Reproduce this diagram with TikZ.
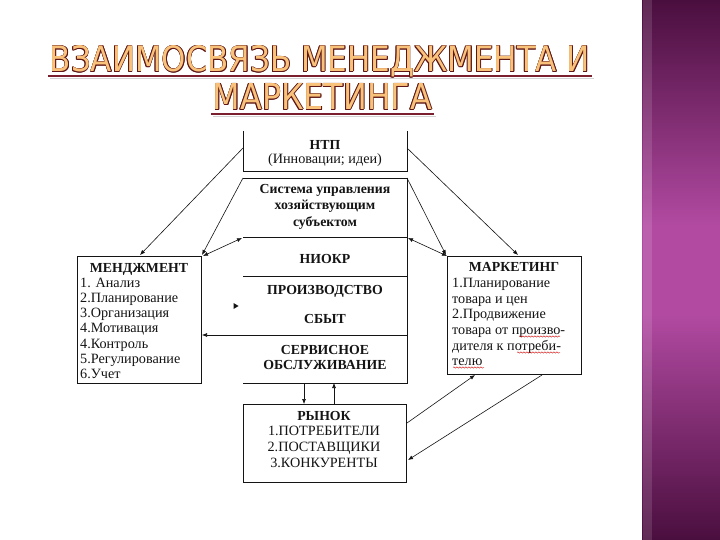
\documentclass[tikz,border=0pt]{standalone}
\usepackage{fontspec}
\setmainfont{Liberation Serif}
\newfontfamily\titlefont{DejaVu Sans}
\usetikzlibrary{arrows.meta,decorations.pathmorphing}
\definecolor{bandtop}{HTML}{4A0E3E}
\definecolor{bandmid}{HTML}{B24AA2}
\definecolor{titlefill}{HTML}{F8C27A}
\definecolor{titleline}{HTML}{5E1616}
\definecolor{ulcol}{HTML}{7B1E2E}
\definecolor{inkcol}{HTML}{141414}
\pgfdeclareverticalshading{bandsh}{100bp}{color(0bp)=(bandtop); color(25bp)=(bandtop); color(46bp)=(bandmid); color(54bp)=(bandmid); color(75bp)=(bandtop); color(100bp)=(bandtop)}
\newcommand\titleone{\resizebox{540pt}{26pt}{\titlefont ВЗАИМОСВЯЗЬ МЕНЕДЖМЕНТА И}}
\newcommand\titletwo{\resizebox{219pt}{26pt}{\titlefont МАРКЕТИНГА}}
\tikzset{
  boxline/.style={line width=0.8pt, draw=inkcol},
  conn/.style={line width=0.6pt, draw=inkcol, -{Latex[length=5pt,width=4pt]}},
  bconn/.style={line width=0.6pt, draw=inkcol, {Latex[length=5pt,width=4pt]}-{Latex[length=5pt,width=4pt]}},
  txt/.style={font=\fontsize{14.2}{15}\selectfont, inner sep=0pt, text=inkcol},
  btxt/.style={font=\fontsize{13.8}{15}\selectfont\bfseries, inner sep=0pt, text=inkcol},
  spell/.style={draw=red!80!black, line width=0.4pt, decorate, decoration={snake, amplitude=0.7pt, segment length=3pt}},
}
\begin{document}
\begin{tikzpicture}[x=1pt,y=-1pt]
\useasboundingbox (0,0) rectangle (720,540);
\fill[white] (0,0) rectangle (720,540);
% side band
\shade[shading=bandsh] (642,0) rectangle (720,540);
\fill[white, opacity=0.12] (643,0) rectangle (652,540);

% title
\draw[gray!35, line width=1.6pt] (50,78.5) -- (594,78.5);
\draw[ulcol, line width=2pt] (48,76) -- (592,76);
\draw[gray!35, line width=1.6pt] (213,116.5) -- (436,116.5);
\draw[ulcol, line width=2pt] (211,114) -- (434,114);
\foreach \a in {0,45,...,315} {
  \node[text=titleline, inner sep=0pt, anchor=base] at ([shift={(\a:0.75pt)}]320,72) {\titleone};
  \node[text=titleline, inner sep=0pt, anchor=base] at ([shift={(\a:0.75pt)}]322.5,110) {\titletwo};
}
\node[text=titlefill, inner sep=0pt, anchor=base] (title1) at (320,72) {\titleone};
\node[text=titlefill, inner sep=0pt, anchor=base] (title2) at (322.5,110) {\titletwo};

% box corners
\coordinate (ntpTL) at (243,131);
\coordinate (ntpTR) at (407,131);
\coordinate (ntpBL) at (243,171);
\coordinate (ntpBR) at (407,171);
\coordinate (sysTL) at (243,178);
\coordinate (sysTR) at (407,178);
\coordinate (cenTL) at (243,237);
\coordinate (cenTR) at (407,237);
\coordinate (cenBL) at (243,383);
\coordinate (cenBR) at (407,383);

% НТП box (open top)
\draw[boxline] (ntpTL) -- (ntpBL) -- (ntpBR) -- (ntpTR);
% Система box (top and right)
\draw[boxline] (sysTL) -- (sysTR) -- (cenTR);
% central block
\draw[boxline] (cenTL) -- (cenTR) -- (cenBR) -- (cenBL);
\draw[boxline] (243,276) -- (407,276);
\draw[boxline] (243,335) -- (407,335);
% МЕНЕДЖМЕНТ box
\draw[boxline] (77,256) rectangle (201,383);
% МАРКЕТИНГ box
\draw[boxline] (447,256) rectangle (581,374);
% РЫНОК box
\draw[boxline] (243,404) rectangle (406,482);

% texts
\node[btxt, anchor=base] (ntp1) at (325,150) {НТП};
\node[txt, anchor=base] (ntp2) at (325,164) {(Инновации; идеи)};
\node[btxt, anchor=base] (sys1) at (325,194) {Система управления};
\node[btxt, anchor=base] (sys2) at (325,210) {хозяйствующим};
\node[btxt, anchor=base] (sys3) at (325,226) {субъектом};
\node[btxt, anchor=base] (cen1) at (325,263) {НИОКР};
\node[btxt, anchor=base] (cen2) at (325,294) {ПРОИЗВОДСТВО};
\node[btxt, anchor=base] (cen3) at (325,323) {СБЫТ};
\node[btxt, anchor=base] (cen4) at (325,354) {СЕРВИСНОЕ};
\node[btxt, anchor=base] (cen5) at (325,369.5) {ОБСЛУЖИВАНИЕ};

\node[btxt, anchor=base] (men0) at (139,272) {МЕНДЖМЕНТ};
\foreach \t [count=\i] in {1. Анализ, 2.Планирование, 3.Организация, 4.Мотивация, 4.Контроль, 5.Регулирование, 6.Учет}
  \node[txt, anchor=base west] (men\i) at (80,272+15.2*\i) {\t};

\node[btxt, anchor=base] (mar0) at (514,271) {МАРКЕТИНГ};
\foreach \t/\yy [count=\i] in {1.Планирование/287, товара и цен/303, 2.Продвижение/318, товара от произво-/334, дителя к потреби-/350, телю/365}
  \node[txt, anchor=base west] (mar\i) at (452,\yy) {\t};
\draw[spell] (519,336.5) -- (560,336.5);
\draw[spell] (517,352.5) -- (560,352.5);
\draw[spell] (453,367.5) -- (484,367.5);

\node[btxt, anchor=base] (ryn0) at (324,420) {РЫНОК};
\node[txt, anchor=base] (ryn1) at (324,435) {1.ПОТРЕБИТЕЛИ};
\node[txt, anchor=base] (ryn2) at (324,451) {2.ПОСТАВЩИКИ};
\node[txt, anchor=base] (ryn3) at (324,467) {3.КОНКУРЕНТЫ};

% connector end points
\coordinate (ntpL) at (243,148);
\coordinate (ntpR) at (407,148);
\coordinate (menT) at (140,255);
\coordinate (menTR) at (202,255);
\coordinate (menTR2) at (203,256);
\coordinate (marT) at (518,255);
\coordinate (marTL) at (446,255);
\coordinate (marTL2) at (447,256);
\coordinate (cenTLa) at (242,238);
\coordinate (cenTRa) at (408,238);
\coordinate (menR) at (202,335);
\coordinate (sep2L) at (243,335);
\coordinate (rynR1) at (407,423);
\coordinate (rynR2) at (408,460);
\coordinate (marB1) at (475,375);
\coordinate (marB2) at (542,375);
\coordinate (cenD) at (304,383);
\coordinate (rynD) at (304,404);
\coordinate (cenU) at (334,383);
\coordinate (rynU) at (334,404);

% connectors
\draw[conn] (ntpL) -- (menT);
\draw[conn] (sysTL) -- (menTR);
\draw[bconn] (cenTLa) -- (menTR2);
\draw[conn] (ntpR) -- (marT);
\draw[conn] (sysTR) -- (marTL);
\draw[bconn] (cenTRa) -- (marTL2);
\draw[conn] (rynR1) -- (marB1);
\draw[conn] (marB2) -- (rynR2);
\draw[conn] (sep2L) -- (menR);
\draw[conn] (cenD) -- (rynD);
\draw[conn] (rynU) -- (cenU);
% stray arrow tip
\fill[inkcol] (233.5,303) -- (238.5,306) -- (233.5,309) -- cycle;
\end{tikzpicture}
\end{document}
